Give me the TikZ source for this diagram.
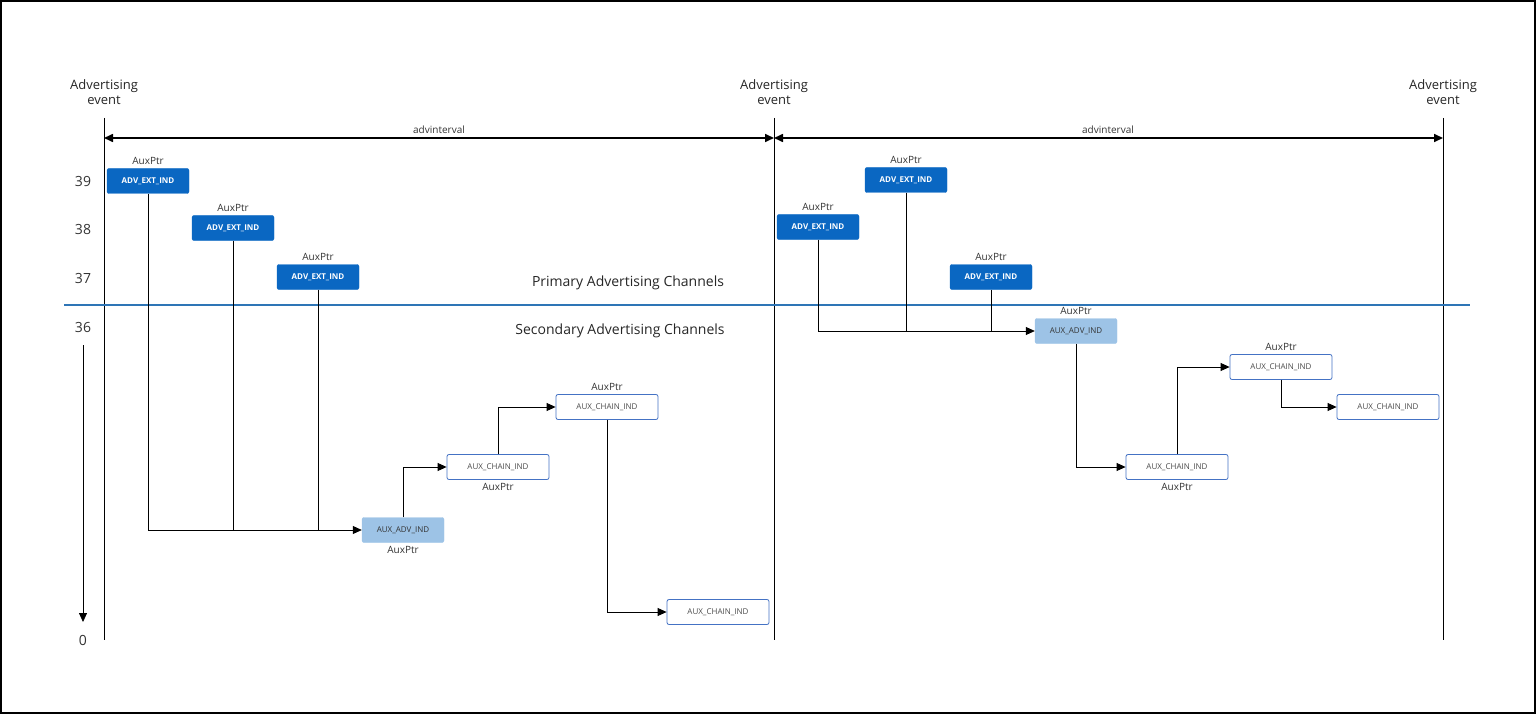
\documentclass[tikz,border=0pt]{standalone}
\usepackage{fontspec}
\setmainfont{Open Sans}
\usetikzlibrary{arrows.meta}
\definecolor{advblue}{HTML}{0A67C2}
\definecolor{auxblue}{HTML}{9DC3E6}
\definecolor{chainline}{HTML}{4472C4}
\definecolor{chline}{HTML}{2E75B6}
\tikzset{
  ext/.style={draw=advblue, fill=advblue, rounded corners=2pt, minimum width=82pt, minimum height=25pt, text=white, font=\fontsize{8}{9}\selectfont\bfseries},
  auxadv/.style={draw=auxblue, fill=auxblue, rounded corners=2pt, minimum width=82pt, minimum height=25pt, text=black!80, font=\fontsize{8}{9}\selectfont},
  chain/.style={draw=chainline, fill=white, rounded corners=2pt, thick, minimum width=102pt, minimum height=25pt, text=black!70, font=\fontsize{8}{9}\selectfont},
  ptr/.style={font=\fontsize{10}{11}\selectfont, text=black!80},
  chnum/.style={font=\fontsize{14}{16}\selectfont, text=black!80},
  link/.style={thick, -{Triangle[length=9pt,width=8pt]}}
}
\begin{document}
\begin{tikzpicture}[x=1pt, y=-1pt]
        \draw[line width=2pt] (1, 1) rectangle (1535, 713);

        % events and intervals
        \foreach \name/\x in {evA/104, evB/774, evC/1443} {
            \coordinate (\name top) at (\x, 118);
            \coordinate (\name bot) at (\x, 640);
            \draw[thick] (\name top) -- (\name bot);
            \node[align=center, font=\fontsize{13}{15}\selectfont, text=black!85] at (\x, 92) {Advertising\\event};
        }
        \coordinate (ivA) at (104, 138);
        \coordinate (ivB) at (774, 138);
        \coordinate (ivC) at (1443, 138);
        \draw[line width=1.6pt, {Triangle[length=9pt,width=8pt]}-{Triangle[length=9pt,width=8pt]}] (ivA) -- (ivB);
        \draw[line width=1.6pt, {Triangle[length=9pt,width=8pt]}-{Triangle[length=9pt,width=8pt]}] (ivB) -- (ivC);
        \node[ptr] at (439, 130) {advinterval};
        \node[ptr] at (1108, 130) {advinterval};

        % channel axis
        \node[chnum] at (83, 182) {39};
        \node[chnum] at (83, 229) {38};
        \node[chnum] at (83, 278) {37};
        \node[chnum] (c36) at (83, 327) {36};
        \node[chnum] (c0) at (83, 640) {0};
        \draw[thick, -{Triangle[length=9pt,width=8pt]}] (83, 345) -- (83, 622);
        \draw[chline, line width=1.5pt] (64, 305) -- (1470, 305);
        \node[font=\fontsize{14}{16}\selectfont, text=black!85] at (628, 283) {Primary Advertising Channels};
        \node[font=\fontsize{14}{16}\selectfont, text=black!85] at (620, 331) {Secondary Advertising Channels};

        % first event
        \node[ext] (e39) at (148, 181) {ADV\_EXT\_IND};
        \node[ext] (e38) at (233, 228) {ADV\_EXT\_IND};
        \node[ext] (e37) at (318, 277) {ADV\_EXT\_IND};
        \node[auxadv] (a1) at (403, 530) {AUX\_ADV\_IND};
        \node[chain] (k1) at (498, 467) {AUX\_CHAIN\_IND};
        \node[chain] (k2) at (607, 407) {AUX\_CHAIN\_IND};
        \node[chain] (k3) at (718, 612) {AUX\_CHAIN\_IND};
        \foreach \n in {e39, e38, e37, k2} \node[ptr, above] at (\n.north) {AuxPtr};
        \foreach \n in {a1, k1} \node[ptr, below] at (\n.south) {AuxPtr};
        \draw[link] (e39.south) |- (a1.west);
        \draw[thick] (e38.south) -- (e38.south |- a1.west);
        \draw[thick] (e37.south) -- (e37.south |- a1.west);
        \draw[link] (a1.north) |- (k1.west);
        \draw[link] (k1.north) |- (k2.west);
        \draw[link] (k2.south) |- (k3.west);

        % second event
        \node[ext] (f38) at (818, 227) {ADV\_EXT\_IND};
        \node[ext] (f39) at (906, 180) {ADV\_EXT\_IND};
        \node[ext] (f37) at (991, 277) {ADV\_EXT\_IND};
        \node[auxadv] (a2) at (1076, 331) {AUX\_ADV\_IND};
        \node[chain] (m1) at (1177, 467) {AUX\_CHAIN\_IND};
        \node[chain] (m2) at (1281, 367) {AUX\_CHAIN\_IND};
        \node[chain] (m3) at (1388, 407) {AUX\_CHAIN\_IND};
        \foreach \n in {f38, f39, f37, a2, m2} \node[ptr, above] at (\n.north) {AuxPtr};
        \node[ptr, below] at (m1.south) {AuxPtr};
        \draw[link] (f38.south) |- (a2.west);
        \draw[thick] (f39.south) -- (f39.south |- a2.west);
        \draw[thick] (f37.south) -- (f37.south |- a2.west);
        \draw[link] (a2.south) |- (m1.west);
        \draw[link] (m1.north) |- (m2.west);
        \draw[link] (m2.south) |- (m3.west);
    \end{tikzpicture}
\end{document}
